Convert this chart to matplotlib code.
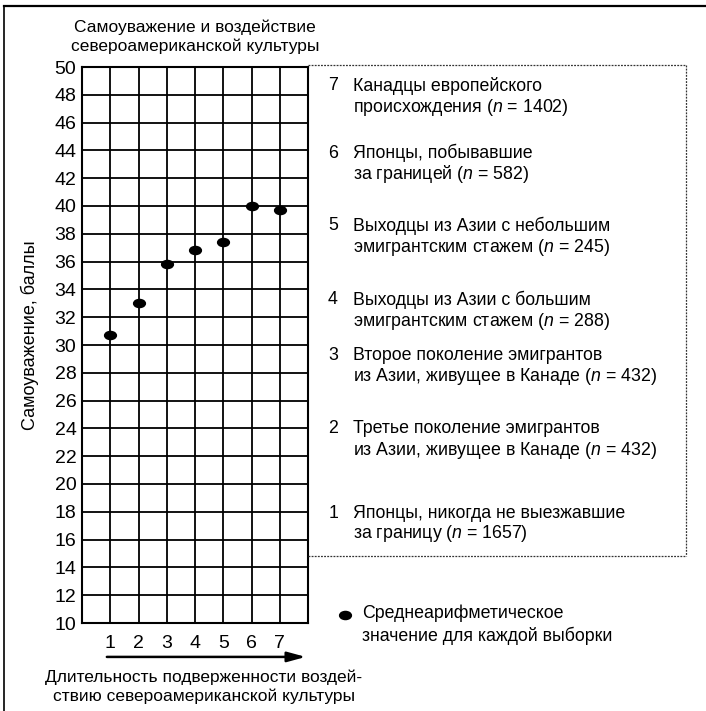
import matplotlib
matplotlib.use('Agg')
import matplotlib.pyplot as plt
from matplotlib.path import Path
from matplotlib.transforms import Affine2D
from matplotlib.lines import Line2D

#helvetica-like font
plt.rcParams['font.family']= ['Liberation Sans','DejaVu Sans']
plt.rcParams['mathtext.fontset']= 'custom'
plt.rcParams['mathtext.it']= 'Liberation Sans:italic'
plt.rcParams['mathtext.rm']= 'Liberation Sans'

#data
groups= [1,2,3,4,5,6,7]
means= [30.7, 33.0, 35.8, 36.8, 37.4, 40.0, 39.7]
ytick_vals= list(range(10,51,2))
xtick_labels= ['','1','2','3','4','5','6','7','']
group_lines= [
    ('7', 'Канадцы европейского', 'происхождения ($n$ = 1402)'),
    ('6', 'Японцы, побывавшие', 'за границей ($n$ = 582)'),
    ('5', 'Выходцы из Азии с небольшим', 'эмигрантским стажем ($n$ = 245)'),
    ('4', 'Выходцы из Азии с большим', 'эмигрантским стажем ($n$ = 288)'),
    ('3', 'Второе поколение эмигрантов', 'из Азии, живущее в Канаде ($n$ = 432)'),
    ('2', 'Третье поколение эмигрантов', 'из Азии, живущее в Канаде ($n$ = 432)'),
    ('1', 'Японцы, никогда не выезжавшие', 'за границу ($n$ = 1657)'),
]
title= 'Самоуважение и воздействие\nсевероамериканской культуры'
ylab= 'Самоуважение, баллы'
xlab= 'Длительность подверженности воздей-\nствию североамериканской культуры'
mean_note= 'Среднеарифметическое\nзначение для каждой выборки'

W,H= 706,711
def fx(x): return x/W
def fy(y): return 1-y/H

fig= plt.figure(figsize=(W/100,H/100),dpi=100)
ax= fig.add_axes([fx(82), fy(623), fx(308)-fx(82), fy(67)-fy(623)])
ax.set_xlim(0,8)
ax.set_ylim(10,50)
ax.set_xticks(range(9))
ax.set_xticklabels(xtick_labels)
ax.set_yticks(ytick_vals)
ax.tick_params(length=0, labelsize=14)
ax.tick_params(axis='x', pad=9)
ax.tick_params(axis='y', pad=4)
ax.grid(True, color='black', linewidth=1.3)
for s in ax.spines.values():
    s.set_linewidth(1.5)

#ellipse dots
ell= Path.unit_circle().transformed(Affine2D().scale(1.45,1.0))
ax.plot(groups, means, linestyle='none', marker=ell, markersize=8.5, color='black', zorder=5, clip_on=False)

#arrow under x ticks
ax.annotate('', xy=(0.99,-0.061), xytext=(0.11,-0.061), xycoords='axes fraction',
            arrowprops=dict(arrowstyle='-|>,head_length=1.1,head_width=0.3', color='black', lw=1.8,
                            shrinkA=0, shrinkB=0), annotation_clip=False)

fig.text(fx(195), fy(37), title, ha='center', va='center', fontsize=12.5, linespacing=1.3)
fig.text(fx(30), fy(335), ylab, ha='center', va='center', rotation=90, fontsize=13)
fig.text(fx(204), fy(687), xlab, ha='center', va='center', fontsize=12.5, linespacing=1.25, multialignment='center')

#group descriptions
ys= [86,153,226,300,355,429,513]
for (num,l1,l2),y in zip(group_lines,ys):
    fig.text(fx(338), fy(y), num, ha='right', va='center', fontsize=12.8)
    fig.text(fx(353), fy(y), l1, ha='left', va='center', fontsize=12.8)
    fig.text(fx(353), fy(y+21), l2, ha='left', va='center', fontsize=12.8)

#dotted box round descriptions
for xs,yy in [([308,686],[65,65]),([686,686],[65,556]),([308,686],[556,556])]:
    fig.add_artist(Line2D([fx(v) for v in xs],[fy(v) for v in yy], color='#333333', lw=0.9, linestyle=(0,(1.5,1))))

#mean marker note
fig.add_artist(Line2D([fx(345)],[fy(615)], marker=ell, markersize=8.5, color='black', linestyle='none'))
fig.text(fx(362), fy(625), mean_note, ha='left', va='center', fontsize=12.8, linespacing=1.3)

#outer frame (top and left)
fig.add_artist(Line2D([fx(4),fx(706)],[fy(6),fy(6)], color='black', lw=1.6))
fig.add_artist(Line2D([fx(4),fx(4)],[fy(6),fy(711)], color='black', lw=1.2))

plt.savefig('out.png', dpi=100)
plt.close()
